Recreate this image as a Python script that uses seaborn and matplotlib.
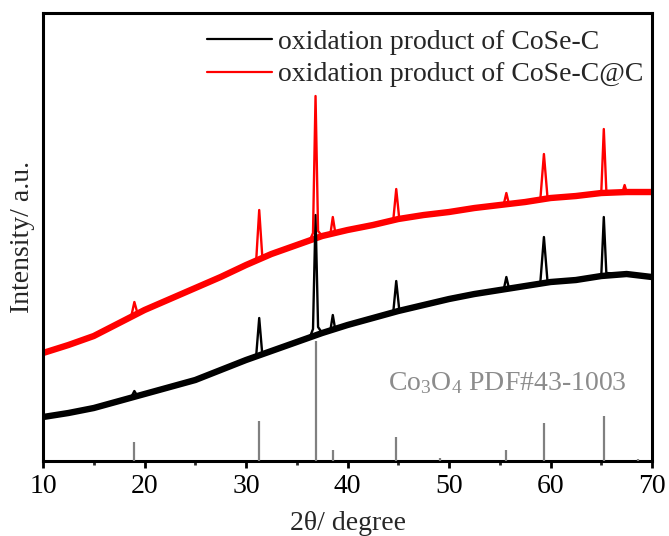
import numpy as np
import pandas as pd
import matplotlib
matplotlib.use("Agg")
import matplotlib.pyplot as plt
import seaborn as sns

# XRD data (intensity in arbitrary units)
# full scans: baseline points plus peak points
black_x = [10, 12.5, 15, 17.5, 18.7, 19.0, 19.3, 20, 22.5, 25, 27.5, 30,
           31.0, 31.3, 31.6, 32.5, 35, 36.3, 36.6, 36.85, 37.1, 37.5, 38.3,
           38.55, 38.8, 40, 42.5, 44.5, 44.8, 45.1, 47.5, 50, 52.5, 55,
           55.4, 55.65, 55.9, 57.5, 59.0, 59.35, 59.7, 60.5, 62.5, 65.0,
           65.25, 65.5, 67.5, 70]
black_y = [44, 48, 53, 60, 64, 70, 65, 67, 74, 81, 91, 101,
           105, 143, 107, 110, 119, 124, 132, 246, 134, 128, 130,
           146, 131, 136, 143, 148, 180, 151, 156, 162, 167, 171,
           172, 184, 173, 175, 179, 224, 180, 180, 181, 185,
           244, 188, 187, 184]

red_x = [10, 12.5, 15, 17.5, 18.7, 19.0, 19.3, 20, 22.5, 25, 27.5, 30,
         31.0, 31.3, 31.6, 32.5, 35, 36.3, 36.6, 36.85, 37.1, 37.5, 38.3,
         38.55, 38.8, 40, 42.5, 44.5, 44.8, 45.1, 47.5, 50, 52.5, 55,
         55.4, 55.65, 55.9, 57.5, 59.0, 59.35, 59.7, 62.5, 65.0, 65.25,
         65.5, 67.1, 67.3, 67.5, 70]
red_y = [108, 116, 125, 138, 145, 159, 148, 151, 162, 173, 184, 196,
         200, 251, 205, 207, 216, 221, 228, 365, 230, 225, 226,
         244, 228, 231, 236, 240, 272, 242, 246, 249, 253, 256,
         257, 268, 257, 259, 262, 307, 264, 265, 268, 332,
         270, 269, 276, 269, 269]

# smooth backgrounds (drawn thick to stand in for the noise band)
base_x = [10, 12.5, 15, 17.5, 20, 22.5, 25, 27.5, 30, 32.5, 35, 37.5, 40,
          42.5, 45, 47.5, 50, 52.5, 55, 57.5, 60, 62.5, 65, 67.5, 70]
black_base = [44, 48, 53, 60, 67, 74, 81, 91, 101, 110, 119, 128, 136,
              143, 150, 156, 162, 167, 171, 175, 179, 181, 185, 187, 184]
red_base = [108, 116, 125, 138, 151, 162, 173, 184, 196, 207, 216, 225, 231,
            236, 242, 246, 249, 253, 256, 259, 263, 265, 268, 269, 269]

# Co3O4 reference pattern
ref_pos = [19.0, 31.27, 36.85, 38.55, 44.81, 49.09, 55.66, 59.36, 65.24, 68.6]
ref_h = [19, 40, 120, 11, 24, 3, 11, 38, 45, 2]

labels = ['oxidation product of CoSe-C', 'oxidation product of CoSe-C@C']
xticks = [10, 20, 30, 40, 50, 60, 70]

sns.set_style('ticks')
plt.rcParams['font.family'] = ['Liberation Serif', 'DejaVu Serif']
plt.rcParams['mathtext.fontset'] = 'custom'
plt.rcParams['mathtext.rm'] = 'Liberation Serif'
plt.rcParams['mathtext.default'] = 'regular'

fs = 20

fig = plt.figure(figsize=(6.69, 5.36), dpi=100)
ax = fig.add_axes([0.0643, 0.1399, 0.9103, 0.8358])

# background bands
sns.lineplot(x=base_x, y=black_base, color='black', lw=4.6, ax=ax, sort=False)
sns.lineplot(x=base_x, y=red_base, color='red', lw=4.6, ax=ax, sort=False)
# full curves with peaks
sns.lineplot(x=black_x, y=black_y, color='black', lw=1.7, ax=ax,
             sort=False, label=labels[0])
sns.lineplot(x=red_x, y=red_y, color='red', lw=1.7, ax=ax,
             sort=False, label=labels[1])

# reference sticks
ax.vlines(ref_pos, 0, ref_h, color='#808080', lw=1.6, zorder=3)
ax.text(0.959, 0.174, 'Co$_3$O$_4$ PDF#43-1003', transform=ax.transAxes,
        ha='right', va='center', fontsize=fs, color='#8c8c8c')

ax.set_xlim(10, 70)
ax.set_ylim(0, 448)
ax.set_xticks(xticks)
ax.set_xticks([15, 25, 35, 45, 55, 65], minor=True)
ax.set_yticks([])
ax.tick_params(axis='x', which='major', direction='out', length=5, width=2,
               labelsize=fs, pad=4, colors='black')
ax.tick_params(axis='x', which='minor', direction='out', length=3, width=2)
ax.set_xlabel('2θ/ degree', fontsize=fs, labelpad=9)
ax.set_ylabel('Intensity/ a.u.', fontsize=fs, labelpad=6)

for sp in ax.spines.values():
    sp.set_visible(True)
    sp.set_linewidth(2.2)
    sp.set_color('black')

leg = ax.legend(loc='upper left', bbox_to_anchor=(0.269, 0.963), frameon=False,
                fontsize=fs, handlelength=2.35, handletextpad=0.22,
                labelspacing=0.25, borderpad=0, borderaxespad=0)
for line in leg.get_lines():
    line.set_linewidth(1.6)

fig.savefig('out.png', dpi=100)
